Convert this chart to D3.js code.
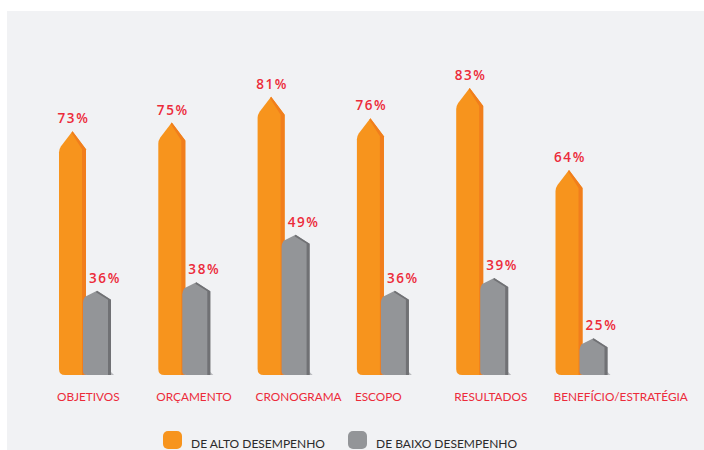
<!DOCTYPE html>
<html><head><meta charset="utf-8">
<script src="https://cdn.jsdelivr.net/npm/d3@7"></script>
<style>
html,body{margin:0;padding:0;background:#fff;}
svg{display:block;}
</style></head>
<body>
<svg id="c" width="704" height="450"></svg>
<script>
const categories = ["OBJETIVOS","ORÇAMENTO","CRONOGRAMA","ESCOPO","RESULTADOS","BENEFÍCIO/ESTRATÉGIA"];
const altoValues = [73,75,81,76,83,64];
const baixoValues = [36,38,49,36,39,25];
const seriesNames = ["DE ALTO DESEMPENHO","DE BAIXO DESEMPENHO"];

const svg = d3.select("#c");
svg.append("rect").attr("x",7).attr("y",11).attr("width",697).attr("height",439).attr("fill","#f1f2f4");

const base = 375;
const x = d3.scaleBand().domain(categories).range([59, 59 + 6*99.3]).padding(0);
const y = d3.scaleLinear().domain([16.5, 83]).range([base, 88]);

const redText = "#ec2b3a";
const fontFam = "'Open Sans', 'Noto Sans', sans-serif";

function barPath(x0, w, tip, sh, r) {
  const xc = x0 + w/2;
  return `M${x0},${base - r} L${x0},${sh + 3} Q${x0},${sh} ${x0+2},${sh-3} L${xc},${tip} L${x0+w},${sh} L${x0+w},${base} L${x0+r},${base} Q${x0},${base} ${x0},${base-r} Z`;
}
function sidePath(x0, w, s, tip, sh) {
  const xc = x0 + w/2;
  return `M${xc},${tip} L${x0+w},${sh} L${x0+w},${base} L${x0+w-s},${base} L${x0+w-s},${sh} L${xc-1},${tip+1.5} Z`;
}

const g = svg.append("g");
// orange bars
categories.forEach((c,i) => {
  const x0 = x(c), w = 27;
  const tip = y(altoValues[i]), sh = tip + 18;
  g.append("path").attr("d", barPath(x0, w, tip, sh, 6)).attr("fill", "#f7941d");
  g.append("path").attr("d", sidePath(x0, w, 4, tip, sh)).attr("fill", "#f17e1c");
});
// gray bars
categories.forEach((c,i) => {
  const x0 = x(c) + 24, w = 28;
  const tip = y(baixoValues[i]), sh = tip + 9;
  g.append("path").attr("d", `M${x0},${base} L${x0+w+3},${base} L${x0+w},${base-3} Z`).attr("fill","#b9babd");
  g.append("path").attr("d", barPath(x0, w, tip, sh, 4)).attr("fill", "#939598");
  g.append("path").attr("d", sidePath(x0, w, 3, tip, sh)).attr("fill", "#707174");
});

// value labels
function valLabel(xp, yp, t) {
  g.append("text").attr("x", xp).attr("y", yp)
    .attr("text-anchor","middle").attr("fill", redText)
    .style("font-family", fontFam).style("font-size","13.5px").style("font-weight","600").style("letter-spacing","1.6px")
    .text(t);
}
categories.forEach((c,i) => {
  valLabel(x(c) + 14.5, y(altoValues[i]) - 8, altoValues[i] + "%");
  valLabel(x(c) + 24 + 22, y(baixoValues[i]) - 8, baixoValues[i] + "%");
});

// category labels
categories.forEach((c) => {
  g.append("text").attr("x", x(c) - 2).attr("y", 401)
    .attr("fill", redText)
    .style("font-family", "Lato, 'Open Sans', sans-serif").style("font-size","11.8px")
    .text(c);
});

// legend
const legend = svg.append("g");
const lx = [163, 348];
const lc = ["#f7941d", "#939598"];
seriesNames.forEach((n,i) => {
  legend.append("rect").attr("x", lx[i]).attr("y", 431).attr("width", 19).attr("height", 18).attr("rx", 5).attr("fill", lc[i]);
  legend.append("text").attr("x", lx[i] + 28).attr("y", 448).attr("fill","#2b2b2b")
    .style("font-family", "Lato, 'Open Sans', sans-serif").style("font-size","12px")
    .text(n);
});
</script>
</body></html>
